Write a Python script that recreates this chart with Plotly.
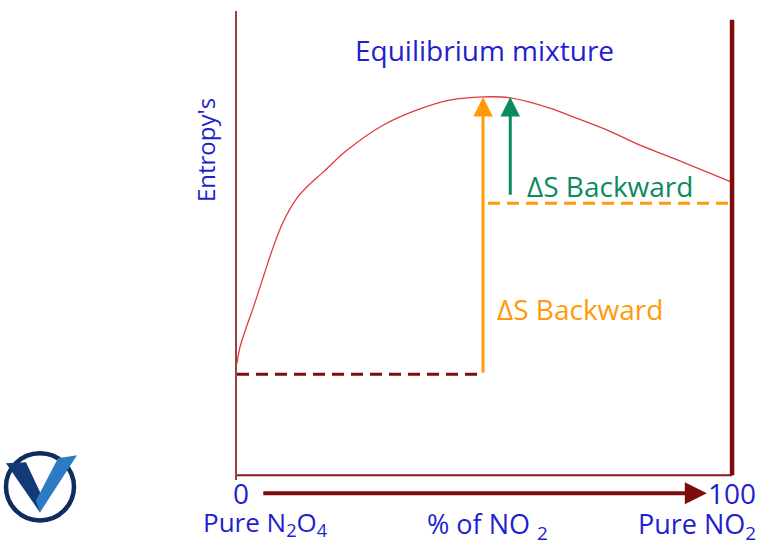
import plotly.graph_objects as go

# ---------------- data ----------------
no2_percent = [0, 0.6, 3.6, 5.3, 7.3, 9.3, 12.1, 14.1, 17.4, 22.2, 29.5, 36.4, 43.0,
               49.7, 55.2, 63.2, 67.9, 74.7, 81.4, 88.1, 95.0, 100]
entropy = [24.1, 27.6, 37.1, 42.7, 49.1, 54.5, 59.7, 62.1, 65.3, 70.0, 75.4, 78.7, 80.8,
           81.5, 81.3, 79.1, 77.2, 74.4, 71.1, 68.3, 65.3, 63.1]

pure_n2o4_entropy = 21.8      # dashed dark-red level
pure_no2_entropy = 58.6       # dashed orange level
equilibrium_x = 49.7          # orange arrow position
equilibrium_entropy = 81.5    # top of arrows
green_arrow_x = 55.2
green_arrow_base = 60.1
right_wall_top = 98.1

tick_vals = [0, 100]
tick_text = ["0", "100"]

# ---------------- layout helpers ----------------
W, H = 765, 555
X_RANGE = [0, 101]
Y_RANGE = [-1, 100]
SX, SY = 4.95, 4.64            # pixels per unit
X0_PX, Y0_PX = 237, 475        # pixel position of (0, 0)
L = X0_PX
R = W - (X0_PX + SX * X_RANGE[1])
T = Y0_PX - SY * Y_RANGE[1]
B = H - (Y0_PX - SY * Y_RANGE[0])
PW, PH = W - L - R, H - T - B


def px(x):
    return (x - L) / PW


def py(y):
    return (H - B - y) / PH


BLUE = "#1f1fd0"
ORANGE = "#ff9a0a"
GREEN = "#0b8a5e"
DARKRED = "#7f0c0c"
FONT = "Open Sans"

fig = go.Figure()

# bottom axis line
fig.add_trace(go.Scatter(x=[0, 100], y=[0, 0], mode="lines",
                         line=dict(color="#8b1a1a", width=2), hoverinfo="skip"))
# entropy curve
fig.add_trace(go.Scatter(x=no2_percent, y=entropy, mode="lines",
                         line=dict(color="#e23a3a", width=1.3, shape="spline"),
                         hoverinfo="skip"))
# dark red dashed level (pure N2O4)
fig.add_trace(go.Scatter(x=[0, equilibrium_x], y=[pure_n2o4_entropy, pure_n2o4_entropy],
                         mode="lines", line=dict(color=DARKRED, width=3, dash="12px,7px"),
                         hoverinfo="skip"))
# orange dashed level (pure NO2)
fig.add_trace(go.Scatter(x=[equilibrium_x + 1, 100], y=[pure_no2_entropy, pure_no2_entropy],
                         mode="lines", line=dict(color=ORANGE, width=3, dash="12px,7px"),
                         hoverinfo="skip"))
# right thick wall
fig.add_trace(go.Scatter(x=[100, 100], y=[0, right_wall_top], mode="lines",
                         line=dict(color=DARKRED, width=4.5), hoverinfo="skip"))

annotations = []
# orange arrow
annotations.append(dict(x=equilibrium_x, y=equilibrium_entropy, ax=equilibrium_x,
                        ay=pure_n2o4_entropy, xref="x", yref="y", axref="x", ayref="y",
                        showarrow=True, arrowhead=2, arrowsize=1.3, arrowwidth=3,
                        arrowcolor=ORANGE, text=""))
# green arrow
annotations.append(dict(x=green_arrow_x, y=equilibrium_entropy, ax=green_arrow_x,
                        ay=green_arrow_base, xref="x", yref="y", axref="x", ayref="y",
                        showarrow=True, arrowhead=2, arrowsize=1.3, arrowwidth=3,
                        arrowcolor=GREEN, text=""))
# bottom axis arrow
annotations.append(dict(x=94.9, y=py(493), xref="x", yref="paper",
                        ax=-445, ay=0, axref="pixel", ayref="pixel",
                        showarrow=True, arrowhead=2, arrowsize=1.1, arrowwidth=4,
                        arrowcolor=DARKRED, text=""))


def label(text, x, y, color=BLUE, size=27, angle=0, xref="paper", xv=None):
    annotations.append(dict(text=text, x=px(x) if xv is None else xv, y=py(y),
                            xref=xref, yref="paper",
                            showarrow=False, textangle=angle,
                            font=dict(family=FONT, size=size, color=color),
                            xanchor="center", yanchor="middle"))


label("Equilibrium mixture", 484, 50, size=28)
label("Entropy's", 205, 150, size=24, angle=-90)
label("ΔS Backward", 610, 186, color=GREEN, size=28)
label("ΔS Backward", 580, 309, color=ORANGE, size=28)
# axis end values
label(tick_text[0], 0, 493, size=28, xref="x", xv=tick_vals[0] + 0.8)
label(tick_text[1], 0, 493, size=28, xref="x", xv=tick_vals[1])
label("Pure N<sub>2</sub>O<sub>4</sub>", 265, 523, size=26)
label("% of NO <sub>2</sub>", 487, 525, size=27)
label("Pure NO<sub>2</sub>", 697, 525, size=27)

# logo (approximation)
shapes = [
    dict(type="circle", xref="paper", yref="paper",
         x0=px(6), x1=px(74), y0=py(520), y1=py(453),
         line=dict(color="#0f2d5e", width=4.5)),
    dict(type="path", xref="paper", yref="paper",
         path=(f"M {px(6)},{py(463)} L {px(26)},{py(462)} L {px(44)},{py(500)} "
               f"L {px(40)},{py(512)} Z"),
         fillcolor="#123a78", line=dict(width=0)),
    dict(type="path", xref="paper", yref="paper",
         path=(f"M {px(40)},{py(512)} L {px(77)},{py(455)} L {px(58)},{py(458)} "
               f"L {px(36)},{py(500)} Z"),
         fillcolor="#2b7cc4", line=dict(width=0)),
]

fig.update_layout(
    width=W, height=H,
    margin=dict(l=L, r=R, t=T, b=B, autoexpand=False),
    paper_bgcolor="white", plot_bgcolor="white",
    showlegend=False,
    annotations=annotations,
    shapes=shapes,
    xaxis=dict(range=X_RANGE, showgrid=False, zeroline=False, showline=False,
               tickvals=tick_vals, ticktext=tick_text,
               showticklabels=False, ticks="", fixedrange=True),
    yaxis=dict(range=Y_RANGE, showgrid=False, zeroline=False, showline=True,
               linecolor="#a0403a", linewidth=2, showticklabels=False, ticks="",
               fixedrange=True),
)

fig.write_html("out.html", config={"displayModeBar": False},
               post_script="document.body.style.margin='0';document.body.style.overflow='hidden';")
